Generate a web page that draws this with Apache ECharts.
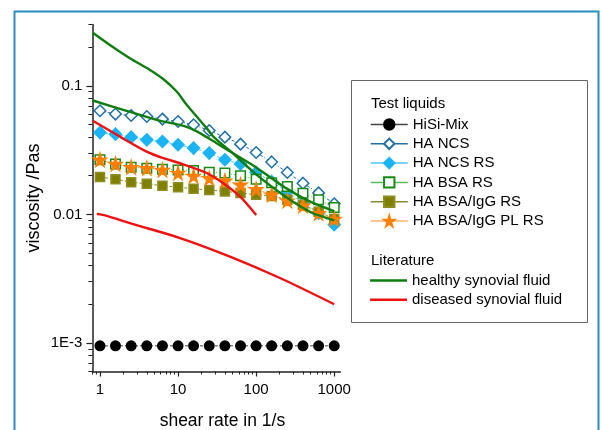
<!DOCTYPE html>
<html><head><meta charset="utf-8">
<script src="https://cdn.jsdelivr.net/npm/echarts@6/dist/echarts.min.js"></script>
<style>html,body{margin:0;padding:0;background:#fff}#c{width:603px;height:430px}</style>
</head><body><div id="c"></div>
<script>
// ---- data ----
const shearRates = [1,1.58,2.51,3.98,6.31,10,15.8,25.1,39.8,63.1,100,158,251,398,631,1000];
const hisiMix   = [0.00095,0.00095,0.00095,0.00095,0.00095,0.00095,0.00095,0.00095,0.00095,0.00095,0.00095,0.00095,0.00095,0.00095,0.00095,0.00095];
const haNCS     = [0.064,0.0603,0.0588,0.0577,0.0551,0.0528,0.0498,0.0449,0.0399,0.0352,0.0303,0.0256,0.0212,0.0175,0.0147,0.0121];
const haNCSRS   = [0.0433,0.0421,0.0399,0.038,0.0369,0.0348,0.0328,0.030,0.0266,0.0247,0.0212,0.018,0.0151,0.0122,0.0102,0.0083];
const haBSARS   = [0.0266,0.0247,0.0233,0.0229,0.0225,0.0222,0.022,0.0213,0.021,0.020,0.0188,0.0176,0.0165,0.0146,0.0130,0.0113];
const haBSAIgG  = [0.0195,0.0188,0.0178,0.0173,0.0167,0.0163,0.0158,0.0155,0.0151,0.0147,0.0142,0.0139,0.013,0.0119,0.0105,0.0092];
const haBSAIgGPL= [0.0266,0.0247,0.0233,0.0229,0.0222,0.021,0.0199,0.0191,0.0183,0.0170,0.0157,0.0142,0.0128,0.0117,0.0102,0.0092];

const healthyA_x = [0.81,1.34,2.42,4.37,6.46,9.6,12.9,17.3,23.2,28.3,50,100,200,300,500,1000];
const healthyA_y = [0.259,0.208,0.164,0.133,0.113,0.0903,0.0712,0.0577,0.0469,0.0403,0.030,0.0205,0.0148,0.0125,0.0104,0.0090];
const healthyB_x = [0.81,1.99,5.32,10.6,14.2,19.1,31.2,50,100,250,500,1000];
const healthyB_y = [0.0769,0.065,0.0544,0.0497,0.0469,0.0429,0.0358,0.030,0.0232,0.0158,0.0125,0.0106];
const diseasedA_x = [0.81,1.8,3.96,6.46,10.6,23.2,37.9,62,100];
const diseasedA_y = [0.0535,0.0403,0.0308,0.0274,0.025,0.021,0.0175,0.0138,0.0099];
const diseasedB_x = [0.91,1.22,2.42,10.6,46.2,202,1000];
const diseasedB_y = [0.0101,0.00975,0.00855,0.00655,0.0047,0.0032,0.0020];

const xMajor = [1,10,100,1000];
const xMinor = [0.8,0.9,2,3,4,5,6,7,8,9,20,30,40,50,60,70,80,90,200,300,400,500,600,700,800,900];
const yMajor = [0.001,0.01,0.1];
const yMinor = [0.0006,0.0007,0.0008,0.0009,0.002,0.003,0.004,0.005,0.006,0.007,0.008,0.009,0.02,0.03,0.04,0.05,0.06,0.07,0.08,0.09,0.2,0.3];
const yLabels = {0.001:'1E-3',0.01:'0.01',0.1:'0.1'};

// ---- build ----
const pairs = (xs, ys) => xs.map((x,i)=>[x, ys[i]]);
const F = "'Liberation Sans', Arial, sans-serif";
const star = 'path://M50,0 L61,35 L98,35 L68,57 L79,91 L50,70 L21,91 L32,57 L2,35 L39,35 Z';
const X = {min:0.8, max:1200};
const Y = {min:0.0006, max:0.3};

function pointSeries(name, ys, symbol, size, fill, border, lineColor, dash){
  return {name, type:'line', data: pairs(shearRates, ys), symbol, symbolSize:size,
    itemStyle:{color:fill, borderColor:border, borderWidth:1.5},
    lineStyle:{color:lineColor, width:1, type:dash}, z:3};
}
const series = [
  pointSeries('HiSi-Mix', hisiMix, 'circle', 9.5, '#000', '#000', '#444', [3,2]),
  pointSeries('HA NCS', haNCS, 'diamond', 11.5, '#fff', '#1f6fa3', '#1f6fa3', [3,2,1,2]),
  pointSeries('HA NCS RS', haNCSRS, 'diamond', 12, '#1ab4f5', '#1ab4f5', '#4cc4ff', [3,2]),
  pointSeries('HA BSA RS', haBSARS, 'rect', 9.5, '#fff', '#168a16', '#5cb85c', [1,2]),
  pointSeries('HA BSA/IgG RS', haBSAIgG, 'rect', 9, '#808000', '#8c8c20', '#8a8a30', [3,2]),
  pointSeries('HA BSA/IgG PL RS', haBSAIgGPL, star, 13, '#ff8000', '#ff8000', '#ffb070', [3,2]),
  {name:'healthy synovial fluid', type:'line', data:pairs(healthyA_x, healthyA_y), symbol:'none', smooth:0.3,
    lineStyle:{color:'#0f7d0f', width:2.4}, itemStyle:{color:'#0f7d0f'}, z:4},
  {name:'healthy synovial fluid', type:'line', data:pairs(healthyB_x, healthyB_y), symbol:'none', smooth:0.3,
    lineStyle:{color:'#0f7d0f', width:2.4}, itemStyle:{color:'#0f7d0f'}, z:4},
  {name:'diseased synovial fluid', type:'line', data:pairs(diseasedA_x, diseasedA_y), symbol:'none', smooth:0.3,
    lineStyle:{color:'#f01010', width:2.4}, itemStyle:{color:'#f01010'}, z:4},
  {name:'diseased synovial fluid', type:'line', data:pairs(diseasedB_x, diseasedB_y), symbol:'none', smooth:0.3,
    lineStyle:{color:'#f01010', width:2.4}, itemStyle:{color:'#f01010'}, z:4}
];

const axisLine = {show:true, lineStyle:{color:'#222', width:1.5}};
const legendText = {fontFamily:F, fontSize:15, color:'#000', lineHeight:16};
const testNames = ['HiSi-Mix','HA NCS','HA NCS RS','HA BSA RS','HA BSA/IgG RS','HA BSA/IgG PL RS'];

const option = {
  backgroundColor:'#fff',
  animation:false,
  grid:{left:92.4, top:24.5, width:248, height:347, containLabel:false, outerBoundsMode:'none'},
  xAxis:[
    {type:'log', min:X.min, max:X.max, axisLine, splitLine:{show:false},
     name:'shear rate in 1/s', nameLocation:'middle', nameGap:41,
     nameTextStyle:{fontFamily:F, fontSize:17.5, color:'#000', padding:[0,0,0,12]},
     axisTick:{show:true, length:5, customValues:xMajor, lineStyle:{color:'#222', width:1.2}},
     axisLabel:{customValues:xMajor, margin:11, fontFamily:F, fontSize:15, color:'#000', formatter:v=>String(Math.round(v))}},
    {type:'log', min:X.min, max:X.max, position:'bottom', axisLine:{show:false}, splitLine:{show:false},
     axisTick:{show:true, length:3, customValues:xMinor, lineStyle:{color:'#222', width:1}},
     axisLabel:{show:false}}
  ],
  yAxis:[
    {type:'log', min:Y.min, max:Y.max, axisLine, splitLine:{show:false},
     name:'viscosity /Pas', nameLocation:'middle', nameGap:49, nameRotate:90,
     nameTextStyle:{fontFamily:F, fontSize:18, color:'#000'},
     axisTick:{show:true, length:6, customValues:yMajor, lineStyle:{color:'#222', width:1.2}},
     axisLabel:{customValues:yMajor, margin:10, fontFamily:F, fontSize:15, color:'#000',
       formatter:v=>{for(const k in yLabels){if(Math.abs(Math.log10(v)-Math.log10(+k))<1e-6) return yLabels[k];} return '';}}},
    {type:'log', min:Y.min, max:Y.max, position:'left', axisLine:{show:false}, splitLine:{show:false},
     axisTick:{show:true, length:4, customValues:yMinor, lineStyle:{color:'#222', width:1}},
     axisLabel:{show:false}}
  ],
  legend:[
    {orient:'vertical', left:370, top:116.5, padding:0, itemGap:3.3, itemWidth:37, itemHeight:13,
     selectedMode:false, textStyle:legendText,
     data: testNames.map(n=>({name:n, lineStyle:{type:'solid', width:1.5}}))},
    {orient:'vertical', left:370, top:272.5, padding:0, itemGap:3.3, itemWidth:37, itemHeight:2.4,
     selectedMode:false, textStyle:legendText,
     data:[{name:'healthy synovial fluid', icon:'rect'},{name:'diseased synovial fluid', icon:'rect'}]}
  ],
  graphic:[
    {type:'rect', shape:{x:14.5, y:11.5, width:584, height:440}, style:{fill:'none', stroke:'#2a8cc2', lineWidth:2}, silent:true},
    {type:'rect', shape:{x:351.5, y:80.5, width:236, height:242}, style:{fill:'#fff', stroke:'#666', lineWidth:1}, silent:true, z:-1},
    {type:'text', left:371, top:96, style:{text:'Test liquids', font:"15px 'Liberation Sans', Arial, sans-serif", fill:'#000'}},
    {type:'text', left:371, top:253, style:{text:'Literature', font:"15px 'Liberation Sans', Arial, sans-serif", fill:'#000'}}
  ],
  series
};
const chart = echarts.init(document.getElementById('c'), null, {renderer:'canvas'});
chart.setOption(option);
</script></body></html>
